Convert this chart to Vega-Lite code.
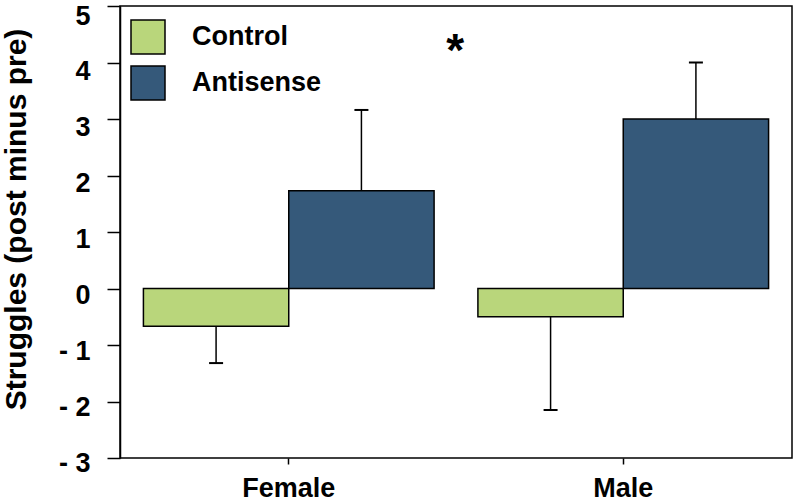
{
  "$schema": "https://vega.github.io/schema/vega-lite/v6.json",
  "autosize": {"type": "none"},
  "width": 672,
  "height": 452,
  "padding": {"left": 120, "top": 6, "right": 5, "bottom": 45},
  "background": "white",
  "config": {
    "view": {"stroke": "black", "strokeWidth": 1.5},
    "font": "Liberation Sans"
  },
  "datasets": {
    "bars": [
      {"sex": "Female", "group": "Control", "mean": -0.67, "end": -1.32},
      {"sex": "Female", "group": "Antisense", "mean": 1.73, "end": 3.16},
      {"sex": "Male", "group": "Control", "mean": -0.5, "end": -2.15},
      {"sex": "Male", "group": "Antisense", "mean": 3.0, "end": 4.0}
    ],
    "note": [{"sex": "Female", "y": 3.93, "label": "*"}]
  },
  "layer": [
    {
      "data": {"name": "bars"},
      "mark": {"type": "bar", "stroke": "black", "strokeWidth": 1.5},
      "encoding": {
        "x": {
          "field": "sex", "type": "nominal",
          "scale": {"paddingInner": 0.131, "paddingOuter": 0.07},
          "axis": {
            "title": null, "labelAngle": 0, "domain": false,
            "tickSize": 6, "tickColor": "black", "tickWidth": 1.5,
            "labelFontSize": 27, "labelFontWeight": "bold", "labelColor": "black",
            "labelPadding": 11
          }
        },
        "xOffset": {
          "field": "group", "type": "nominal", "sort": ["Control", "Antisense"],
          "scale": {"paddingInner": 0, "paddingOuter": 0}
        },
        "y": {
          "field": "mean", "type": "quantitative",
          "scale": {"domain": [-3, 5], "nice": false, "zero": false},
          "axis": {
            "title": "Struggles (post minus pre)",
            "titleFontSize": 30, "titleFontWeight": "bold", "titleColor": "black",
            "titleX": -89, "titleY": 213,
            "values": [-3, -2.5, -2, -1.5, -1, -0.5, 0, 0.5, 1, 1.5, 2, 2.5, 3, 3.5, 4, 4.5, 5],
            "labelExpr": "datum.value % 1 !== 0 ? '' : (datum.value < 0 ? '- ' + abs(datum.value) : '' + datum.value)",
            "tickSize": {"expr": "datum.value % 1 === 0 ? 13 : 7"},
            "tickColor": "black", "tickWidth": 1.5,
            "domainColor": "black", "domainWidth": 1.5,
            "grid": false,
            "labelFontSize": 27, "labelFontWeight": "bold", "labelColor": "black",
            "labelPadding": 17, "labelFlush": false,
            "labelOffset": {"expr": "7 + 0.6 * datum.value"}
          }
        },
        "color": {
          "field": "group", "type": "nominal", "sort": ["Control", "Antisense"],
          "scale": {"domain": ["Control", "Antisense"], "range": ["#b9d67b", "#35597a"]},
          "legend": {
            "title": null, "orient": "none", "legendX": 10, "legendY": 13,
            "symbolType": "square", "symbolSize": 1156,
            "symbolStrokeColor": "black", "symbolStrokeWidth": 1.5, "symbolOpacity": 1,
            "labelFontSize": 27, "labelFontWeight": "bold", "labelColor": "black",
            "labelOffset": 26, "rowPadding": 6, "padding": 0
          }
        }
      }
    },
    {
      "data": {"name": "bars"},
      "mark": {"type": "rule", "color": "black", "strokeWidth": 1.5},
      "encoding": {
        "x": {"field": "sex", "type": "nominal"},
        "xOffset": {"field": "group", "type": "nominal", "sort": ["Control", "Antisense"]},
        "y": {"field": "mean", "type": "quantitative"},
        "y2": {"field": "end"}
      }
    },
    {
      "data": {"name": "bars"},
      "mark": {"type": "tick", "color": "black", "size": 14, "thickness": 2, "opacity": 1},
      "encoding": {
        "x": {"field": "sex", "type": "nominal"},
        "xOffset": {"field": "group", "type": "nominal", "sort": ["Control", "Antisense"]},
        "y": {"field": "end", "type": "quantitative"}
      }
    },
    {
      "mark": {"type": "rule", "color": "#999999", "strokeWidth": 1.5},
      "encoding": {"y": {"datum": 0}}
    },
    {
      "data": {"name": "note"},
      "mark": {"type": "text", "fontSize": 46, "fontWeight": "bold", "color": "black", "dx": 21, "baseline": "alphabetic"},
      "encoding": {
        "x": {"field": "sex", "type": "nominal", "bandPosition": 1},
        "y": {"field": "y", "type": "quantitative"},
        "text": {"field": "label"}
      }
    }
  ]
}
